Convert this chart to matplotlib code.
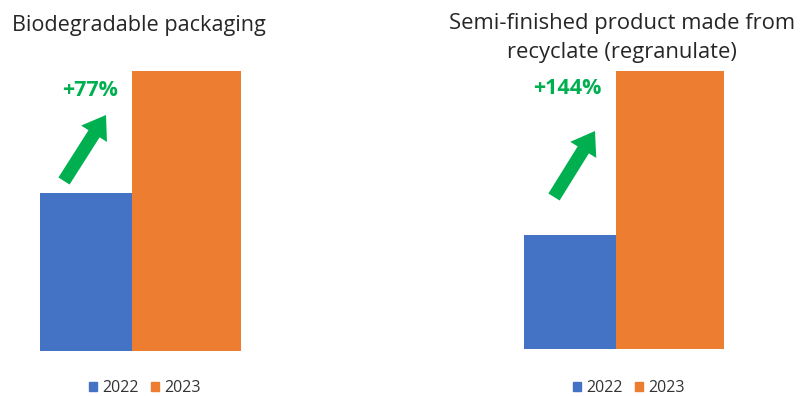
import matplotlib
matplotlib.use("Agg")
import matplotlib.pyplot as plt
from matplotlib.patches import Patch

plt.rcParams['font.family'] = ['Open Sans', 'DejaVu Sans']

W, H = 801, 396
years = ["2022", "2023"]
bio_values = [100, 177]        # 2022 = 100 index
regran_values = [100, 244]
titles = ["Biodegradable packaging", "Semi-finished product made from\nrecyclate (regranulate)"]
growth = ["+77%", "+144%"]

blue = "#4472C4"
orange = "#ED7D31"
green = "#00B050"

fig = plt.figure(figsize=(W / 100, H / 100), dpi=100)


def px_axes(x0, x1, ytop, ybot):
    return fig.add_axes([x0 / W, 1 - ybot / H, (x1 - x0) / W, (ybot - ytop) / H])


def draw_panel(ax, values):
    ax.bar([0, 0.85], values, width=[0.85, 1.0], align="edge", color=[blue, orange])
    ax.set_xlim(0, 1.85)
    ax.set_ylim(0, max(values))
    ax.axis("off")


ax1 = px_axes(40, 241, 71, 351)
draw_panel(ax1, bio_values)
ax2 = px_axes(524, 724, 71, 349)
draw_panel(ax2, regran_values)

# titles
fig.text(12 / W, 1 - 25 / H, titles[0], fontsize=15.6, color="#262626", ha="left", va="center")
fig.text(622 / W, 1 - 38 / H, titles[1], fontsize=15.8, color="#262626", ha="center", va="center",
         linespacing=1.5)

# growth labels
fig.text(90 / W, 1 - 90 / H, growth[0], fontsize=15.5, color=green, weight="bold", ha="center", va="center")
fig.text(567 / W, 1 - 88 / H, growth[1], fontsize=15.5, color=green, weight="bold", ha="center", va="center")

arrow = dict(arrowstyle="simple,head_length=16,head_width=22,tail_width=9.5",
             color=green, mutation_scale=1, shrinkA=0, shrinkB=0, lw=0)
fig.add_artist(plt.Annotation("", xy=(106, H - 115), xytext=(64, H - 181),
                              xycoords="figure pixels", textcoords="figure pixels", arrowprops=arrow))
fig.add_artist(plt.Annotation("", xy=(595, H - 131), xytext=(554, H - 197),
                              xycoords="figure pixels", textcoords="figure pixels", arrowprops=arrow))

# legends
handles = [Patch(color=blue, label=years[0]), Patch(color=orange, label=years[1])]
for cx in (145, 629):
    fig.legend(handles=handles, loc="center", bbox_to_anchor=(cx / W, 1 - 388 / H), ncol=2,
               frameon=False, fontsize=11.5, handlelength=0.5, handleheight=0.5,
               handletextpad=0.3, columnspacing=0.8, labelcolor="#333333")

fig.savefig("out.png", dpi=100)
